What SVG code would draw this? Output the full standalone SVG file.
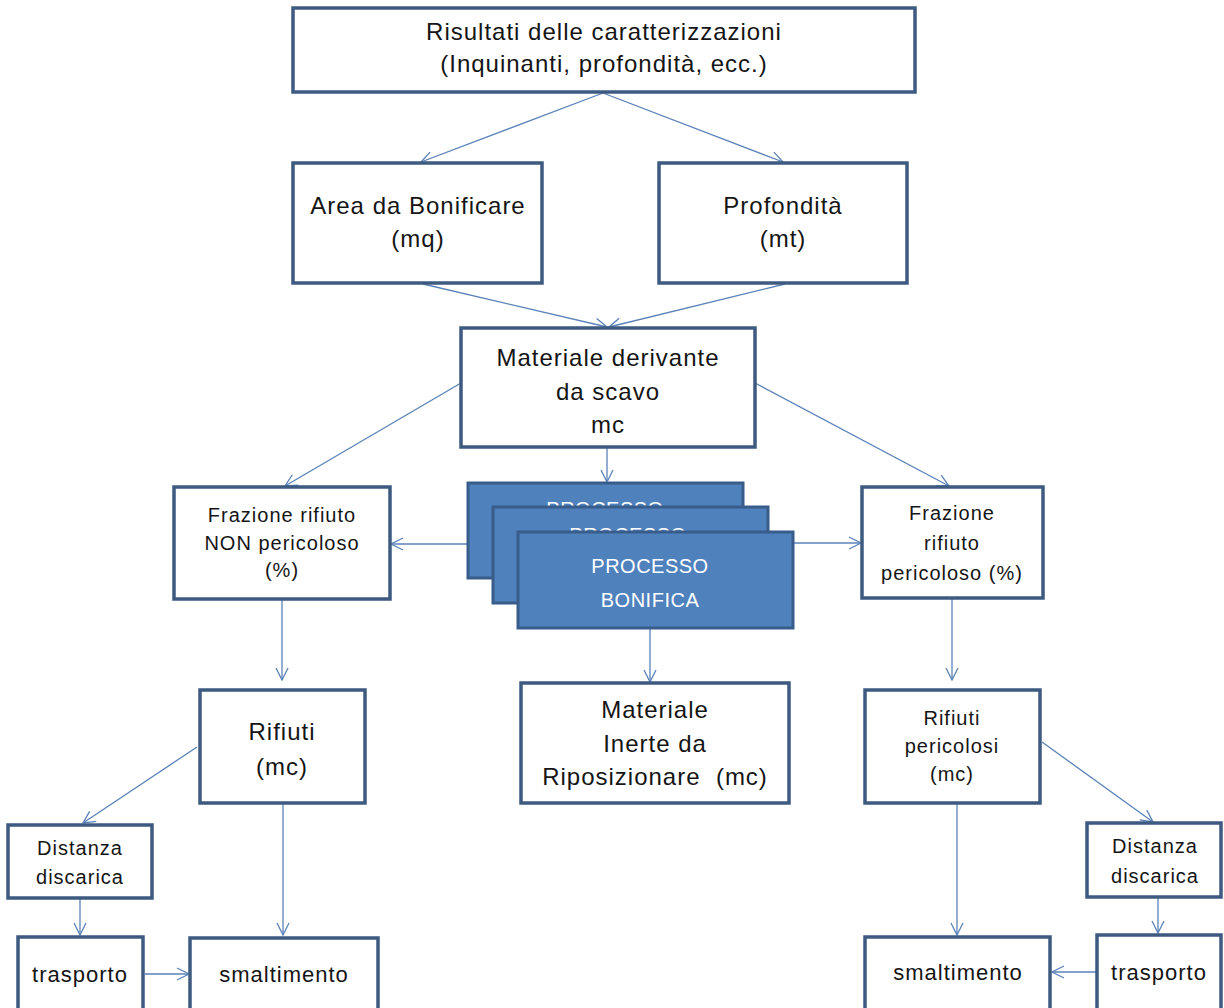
<svg xmlns="http://www.w3.org/2000/svg" width="1224" height="1008" viewBox="0 0 1224 1008">
<style>
.box{fill:#ffffff;stroke:#3d5a80;stroke-width:3.5}
.proc{fill:#4f81bd;stroke:#385d8a;stroke-width:3}
.t{font-family:"Liberation Sans",Arial,sans-serif;fill:#151515;text-anchor:middle;letter-spacing:1px}
.l{font-size:24px}
.m{font-size:22px}
.s{font-size:20px}
.w{font-family:"Liberation Sans",Arial,sans-serif;fill:#ffffff;text-anchor:middle;font-size:20px;letter-spacing:0.5px}
.c{fill:none;stroke:#5a82b8;stroke-width:1.3}
</style>
<defs>
<marker id="arr" viewBox="0 0 14 14" refX="13" refY="7" markerWidth="14" markerHeight="14" markerUnits="userSpaceOnUse" orient="auto">
<path d="M1,1 L13,7 L1,13" fill="none" stroke="#5a82b8" stroke-width="1.3"/>
</marker>
</defs>
<rect width="1224" height="1008" fill="#ffffff"/>
<g id="connectors">
<path class="c" marker-end="url(#arr)" d="M603,93 L421,162"/>
<path class="c" marker-end="url(#arr)" d="M603,93 L783,162"/>
<path class="c" marker-end="url(#arr)" d="M423,284 L607,327"/>
<path class="c" marker-end="url(#arr)" d="M785,284 L609,327"/>
<path class="c" marker-end="url(#arr)" d="M607,448 L607,482"/>
<path class="c" marker-end="url(#arr)" d="M461,383 L285,486"/>
<path class="c" marker-end="url(#arr)" d="M755,383 L949,486"/>
<path class="c" marker-end="url(#arr)" d="M468,544 L391,544"/>
<path class="c" marker-end="url(#arr)" d="M793,543 L861,543"/>
<path class="c" marker-end="url(#arr)" d="M650,629 L650,682"/>
<path class="c" marker-end="url(#arr)" d="M282,600 L282,680"/>
<path class="c" marker-end="url(#arr)" d="M952,599 L952,680"/>
<path class="c" marker-end="url(#arr)" d="M197,747 L83,823"/>
<path class="c" marker-end="url(#arr)" d="M283,804 L283,935"/>
<path class="c" marker-end="url(#arr)" d="M80,899 L80,935"/>
<path class="c" marker-end="url(#arr)" d="M145,974 L189,974"/>
<path class="c" marker-end="url(#arr)" d="M957,804 L957,935"/>
<path class="c" marker-end="url(#arr)" d="M1042,742 L1153,822"/>
<path class="c" marker-end="url(#arr)" d="M1158,898 L1158,933"/>
<path class="c" marker-end="url(#arr)" d="M1096,972 L1052,972"/>
</g>
<g id="risultati">
<rect class="box" x="293" y="8" width="622" height="84"/>
<text class="t l" x="604" y="40">Risultati delle caratterizzazioni</text>
<text class="t l" x="604" y="72">(Inquinanti, profondità, ecc.)</text>
</g>
<g id="area">
<rect class="box" x="293" y="163" width="249" height="120"/>
<text class="t l" x="418" y="214">Area da Bonificare</text>
<text class="t l" x="418" y="247">(mq)</text>
</g>
<g id="profondita">
<rect class="box" x="659" y="163" width="248" height="120"/>
<text class="t l" x="783" y="214">Profondità</text>
<text class="t l" x="783" y="247">(mt)</text>
</g>
<g id="materiale-scavo">
<rect class="box" x="461" y="328" width="294" height="119"/>
<text class="t l" x="608" y="366">Materiale derivante</text>
<text class="t l" x="608" y="400">da scavo</text>
<text class="t l" x="608" y="433">mc</text>
</g>
<g id="frazione-non">
<rect class="box" x="174" y="487" width="216" height="112"/>
<text class="t s" x="282" y="522">Frazione rifiuto</text>
<text class="t s" x="282" y="550">NON pericoloso</text>
<text class="t s" x="282" y="577">(%)</text>
</g>
<g id="frazione-per">
<rect class="box" x="862" y="487" width="181" height="111"/>
<text class="t s" x="952" y="520">Frazione</text>
<text class="t s" x="952" y="550">rifiuto</text>
<text class="t s" x="952" y="580">pericoloso (%)</text>
</g>
<g id="processo">
<rect class="proc" x="468" y="483" width="275" height="95"/>
<text class="w" x="605" y="516">PROCESSO</text>
<rect class="proc" x="493" y="507" width="275" height="96"/>
<text class="w" x="628" y="542">PROCESSO</text>
<rect class="proc" x="518" y="532" width="275" height="96"/>
<text class="w" x="650" y="573">PROCESSO</text>
<text class="w" x="650" y="607">BONIFICA</text>
</g>
<g id="rifiuti">
<rect class="box" x="200" y="690" width="165" height="113"/>
<text class="t l" x="282" y="740">Rifiuti</text>
<text class="t l" x="282" y="775">(mc)</text>
</g>
<g id="materiale-inerte">
<rect class="box" x="521" y="683" width="268" height="120"/>
<text class="t l" x="655" y="718">Materiale</text>
<text class="t l" x="655" y="752">Inerte da</text>
<text class="t l" x="655" y="785" style="white-space:pre">Riposizionare  (mc)</text>
</g>
<g id="rifiuti-pericolosi">
<rect class="box" x="865" y="690" width="175" height="113"/>
<text class="t s" x="952" y="725">Rifiuti</text>
<text class="t s" x="952" y="753">pericolosi</text>
<text class="t s" x="952" y="781">(mc)</text>
</g>
<g id="distanza-sx">
<rect class="box" x="8" y="825" width="144" height="73"/>
<text class="t s" x="80" y="855">Distanza</text>
<text class="t s" x="80" y="884">discarica</text>
</g>
<g id="trasporto-sx">
<rect class="box" x="18" y="937" width="125" height="80"/>
<text class="t m" x="80" y="982">trasporto</text>
</g>
<g id="smaltimento-sx">
<rect class="box" x="190" y="938" width="188" height="80"/>
<text class="t m" x="284" y="982">smaltimento</text>
</g>
<g id="distanza-dx">
<rect class="box" x="1087" y="823" width="134" height="74"/>
<text class="t s" x="1155" y="853">Distanza</text>
<text class="t s" x="1155" y="883">discarica</text>
</g>
<g id="trasporto-dx">
<rect class="box" x="1097" y="935" width="124" height="80"/>
<text class="t m" x="1159" y="980">trasporto</text>
</g>
<g id="smaltimento-dx">
<rect class="box" x="865" y="937" width="185" height="80"/>
<text class="t m" x="958" y="980">smaltimento</text>
</g>
</svg>
